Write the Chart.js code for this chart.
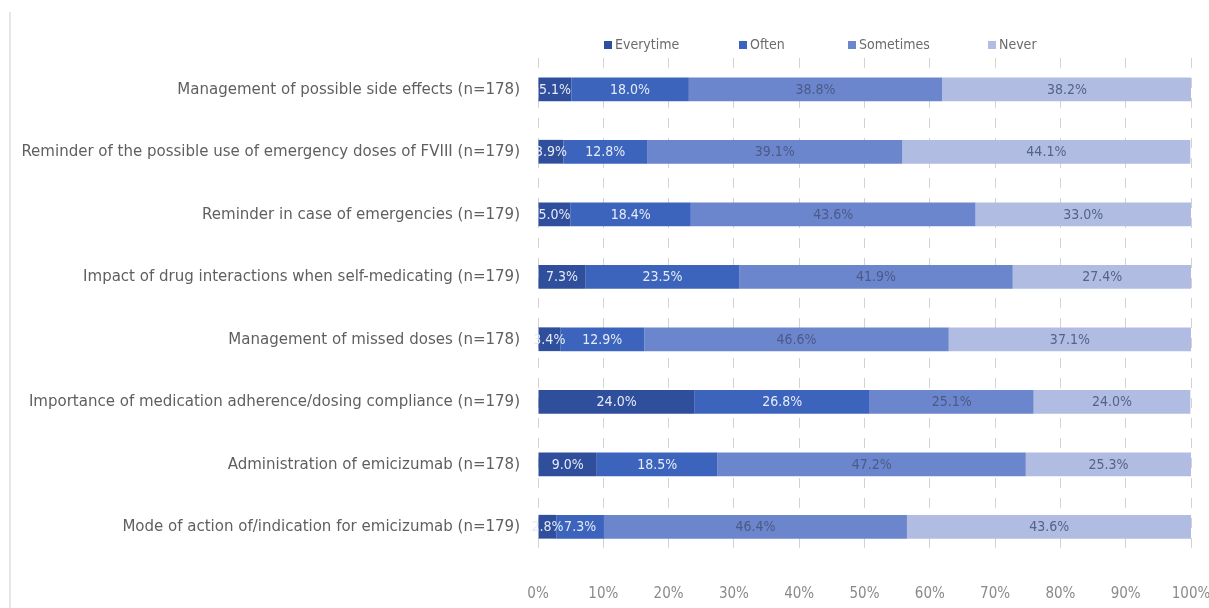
<!DOCTYPE html>
<html>
<head>
<meta charset="utf-8">
<script src="https://cdn.jsdelivr.net/npm/chart.js@4.4.1/dist/chart.umd.min.js"></script>
<style>
  html, body { margin: 0; padding: 0; background: #ffffff; }
  #wrap { position: relative; width: 1209px; height: 608px; }
  #frame { position: absolute; left: 9px; top: 12px; bottom: 0; border-left: 2px solid #e6e6e6; }
  canvas { position: absolute; left: 0; top: 0; }
</style>
</head>
<body>
<div id="wrap">
  <div id="frame"></div>
  <canvas id="chart" width="1209" height="608"></canvas>
</div>
<script>
// Survey topics (top to bottom) and share of respondents per answer, in percent
const categories = [
  "Management of possible side effects (n=178)",
  "Reminder of the possible use of emergency doses of FVIII (n=179)",
  "Reminder in case of emergencies (n=179)",
  "Impact of drug interactions when self-medicating (n=179)",
  "Management of missed doses (n=178)",
  "Importance of medication adherence/dosing compliance (n=179)",
  "Administration of emicizumab (n=178)",
  "Mode of action of/indication for emicizumab (n=179)"
];
const everytime = [5.1, 3.9, 5.0, 7.3, 3.4, 24.0, 9.0, 2.8];
const often     = [18.0, 12.8, 18.4, 23.5, 12.9, 26.8, 18.5, 7.3];
const sometimes = [38.8, 39.1, 43.6, 41.9, 46.6, 25.1, 47.2, 46.4];
const never     = [38.2, 44.1, 33.0, 27.4, 37.1, 24.0, 25.3, 43.6];
const seriesNames = ["Everytime", "Often", "Sometimes", "Never"];
const xTicks = [0, 10, 20, 30, 40, 50, 60, 70, 80, 90, 100];

const FONT = "'Liberation Sans Narrow', 'DejaVu Sans Condensed', 'Liberation Sans', sans-serif";
const fills = ["#2f4f9c", "#3c64bd", "#6c86cd", "#b1bce2"];
const valueColors = ["#e6ebf7", "#e6ebf7", "#4b5a86", "#55638a"];

// Percentage written in the middle of every segment
const segmentLabels = {
  id: "segmentLabels",
  afterDatasetsDraw(chart) {
    const ctx = chart.ctx;
    ctx.save();
    ctx.font = "14px " + FONT;
    ctx.textAlign = "center";
    ctx.textBaseline = "middle";
    chart.data.datasets.forEach((ds, di) => {
      const meta = chart.getDatasetMeta(di);
      ctx.fillStyle = valueColors[di];
      meta.data.forEach((bar, i) => {
        const cx = (bar.x + bar.base) / 2;
        ctx.fillText(ds.data[i].toFixed(1) + "%", cx, bar.y + 1);
      });
    });
    ctx.restore();
  }
};

// Legend row above the plot, small square swatches
const legendX = [604, 739, 848, 988];
const topLegend = {
  id: "topLegend",
  afterDraw(chart) {
    const ctx = chart.ctx;
    ctx.save();
    ctx.font = "14px " + FONT;
    ctx.textBaseline = "middle";
    const y = 45;
    chart.data.datasets.forEach((ds, di) => {
      const x = legendX[di];
      ctx.fillStyle = ds.backgroundColor;
      ctx.fillRect(x, y - 4, 8, 8);
      ctx.fillStyle = "#6b6b6b";
      ctx.fillText(ds.label, x + 11, y);
    });
    ctx.restore();
  }
};

const seriesData = [everytime, often, sometimes, never];

new Chart(document.getElementById("chart"), {
  type: "bar",
  data: {
    labels: categories,
    datasets: seriesNames.map((name, i) => ({
      label: name,
      data: seriesData[i],
      backgroundColor: fills[i],
      borderWidth: 0,
      barPercentage: 1,
      categoryPercentage: 0.38
    }))
  },
  options: {
    indexAxis: "y",
    responsive: false,
    animation: false,
    layout: { padding: { top: 58, right: 0, left: 0, bottom: 0 } },
    plugins: {
      legend: { display: false },
      tooltip: { enabled: false }
    },
    scales: {
      x: {
        stacked: true,
        min: 0,
        max: 100,
        afterBuildTicks(scale) { scale.ticks = xTicks.map(v => ({ value: v })); },
        afterFit(scale) { scale.paddingRight = 18; scale.height = 50; },
        ticks: {
          callback: v => v + "%",
          color: "#8a8a8a",
          font: { family: FONT, size: 15 },
          padding: 27,
          maxRotation: 0
        },
        grid: { color: "#d2d2d2", lineWidth: 1, drawTicks: false },
        border: { display: false, dash: [10, 10] }
      },
      y: {
        stacked: true,
        afterFit(scale) { scale.width = 538; },
        ticks: {
          color: "#5f5f5f",
          font: { family: FONT, size: 16.7 },
          padding: 18
        },
        grid: { display: false, drawTicks: false },
        border: { display: false }
      }
    }
  },
  plugins: [segmentLabels, topLegend]
});
</script>
</body>
</html>
